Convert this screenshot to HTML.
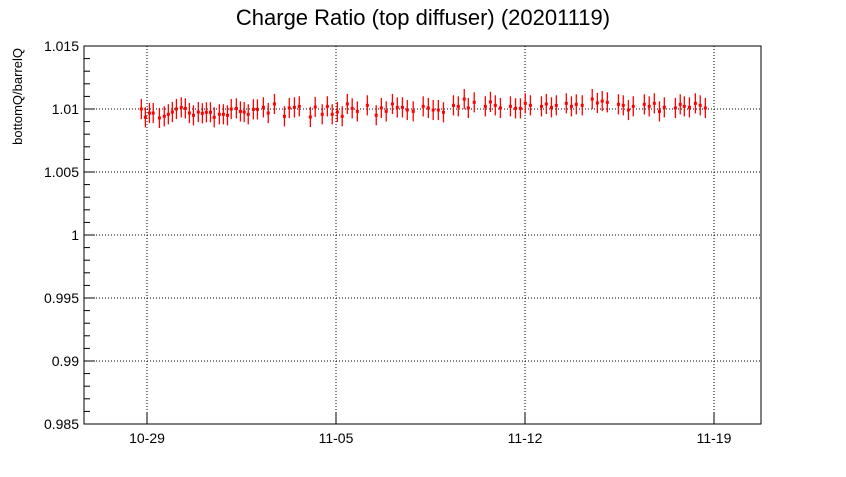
<!DOCTYPE html>
<html><head><meta charset="utf-8"><style>
body{margin:0;background:#fff;}
svg text{font-family:"Liberation Sans",sans-serif;}
</style></head><body>
<svg id="c" width="846" height="472" xmlns="http://www.w3.org/2000/svg">
<rect width="846" height="472" fill="#fff"/>
<text x="423" y="25" font-size="22" text-anchor="middle">Charge Ratio (top diffuser) (20201119)</text>
<text transform="translate(22,48) rotate(-90)" font-size="13" text-anchor="end">bottomQ/barrelQ</text>
<g id="grid"></g><g id="axes"></g><g id="marks"></g>
</svg>
<script>
const days=[-0.21,-0.06,0.09,0.23,0.46,0.64,0.79,0.94,1.09,1.27,1.42,1.57,1.72,1.90,2.05,2.20,2.35,2.49,2.68,2.83,2.98,3.12,3.31,3.46,3.60,3.75,3.94,4.09,4.31,4.49,4.72,5.09,5.27,5.46,5.64,6.05,6.23,6.49,6.68,6.86,7.05,7.23,7.42,7.60,7.79,8.16,8.49,8.68,8.86,9.09,9.27,9.46,9.64,9.86,10.23,10.42,10.60,10.79,10.98,11.35,11.53,11.75,11.90,12.12,12.53,12.72,12.90,13.09,13.46,13.65,13.83,14.01,14.20,14.61,14.79,14.98,15.16,15.53,15.72,15.90,16.12,16.49,16.68,16.86,17.05,17.46,17.64,17.83,18.01,18.42,18.60,18.79,18.98,19.16,19.57,19.75,19.90,20.09,20.31,20.49,20.68];
const ratios=[1.0100,1.00934,1.00968,1.00968,1.00929,1.00942,1.00958,1.00976,1.0100,1.01013,1.01005,1.00968,1.0095,1.00976,1.00966,1.00974,1.00974,1.00934,1.00958,1.00958,1.0095,1.0100,1.01005,1.00981,1.00976,1.00958,1.00997,1.00997,1.01013,1.00968,1.0104,1.00942,1.01008,1.01013,1.01021,1.00937,1.01016,1.00958,1.01021,1.00958,1.00976,1.00942,1.0104,1.01005,1.00981,1.01029,1.0095,1.01008,1.00981,1.0104,1.01013,1.01013,1.00992,1.00981,1.01021,1.01008,1.00992,1.00992,1.00974,1.01029,1.01021,1.01079,1.01008,1.01053,1.01021,1.01056,1.01029,1.01008,1.01021,1.01005,1.01005,1.01045,1.01029,1.01021,1.0104,1.01013,1.01029,1.01045,1.01021,1.01037,1.01029,1.01079,1.01048,1.01063,1.01053,1.01037,1.01029,1.00992,1.01021,1.01037,1.01021,1.01045,1.00981,1.01013,1.01008,1.01037,1.01021,1.01013,1.01045,1.01029,1.01008];
const errors=[0.0008];
const xTickDays=[0,7,14,21];
const xTickLabels=["10-29","11-05","11-12","11-19"];
const yTicks=[0.985,0.99,0.995,1,1.005,1.01,1.015];
const yTickLabels=["0.985","0.99","0.995","1","1.005","1.01","1.015"];
const L=84,R=761,T=46,B=424;
const yMin=0.985,yMax=1.015;
const xs=d=>147+d*27;
const ys=v=>B-(v-yMin)/(yMax-yMin)*(B-T);
const NS="http://www.w3.org/2000/svg";
function mk(tag,at,parent){const e=document.createElementNS(NS,tag);for(const k in at)e.setAttribute(k,at[k]);parent.appendChild(e);return e;}
const grid=document.getElementById('grid'),axes=document.getElementById('axes'),marks=document.getElementById('marks');
xTickDays.forEach((d,i)=>{const x=xs(d);
 const g=mk('line',{x1:x,x2:x,y1:T,y2:B,stroke:'#000','stroke-dasharray':'1,2','stroke-width':1},grid);
 
 
 const t=mk('line',{x1:x,x2:x,y1:B,y2:B-11,stroke:'#000'},axes);
 
 
 const tx=mk('text',{x:x,y:B+19,'font-size':14,'text-anchor':'middle'},axes);tx.textContent=xTickLabels[i];
 
 
});
yTicks.forEach((v,i)=>{const y=ys(v);
 if(i>0&&i<yTicks.length-1){const g=mk('line',{x1:L,x2:R,y1:y,y2:y,stroke:'#000','stroke-dasharray':'1,2'},grid);
 
 }
 const t=mk('line',{x1:L,x2:L+11,y1:y,y2:y,stroke:'#000'},axes);
 
 
 const tx=mk('text',{x:L-5,y:y+5,'font-size':14,'text-anchor':'end'},axes);tx.textContent=yTickLabels[i];
 
 
 if(i<yTicks.length-1){for(let k=1;k<5;k++){const yy=ys(v+k*0.001);
  const m=mk('line',{x1:L,x2:L+6,y1:yy,y2:yy,stroke:'#000'},axes);
  
  }}
});
const frame=mk('rect',{x:L,y:T,width:R-L,height:B-T,fill:'none',stroke:'#000'},axes);


days.forEach((d,i)=>{const x=xs(d),v=ratios[i],e=errors[i%errors.length];
 const g=mk('g',{},marks);
 
 
 mk('line',{x1:x,x2:x,y1:ys(v+e),y2:ys(v-e),stroke:'#f00','stroke-width':1.3},g);
 mk('rect',{x:x-1.5,y:ys(v)-1.5,width:3,height:3,fill:'#f00'},g);
});
</script>
</body></html>
